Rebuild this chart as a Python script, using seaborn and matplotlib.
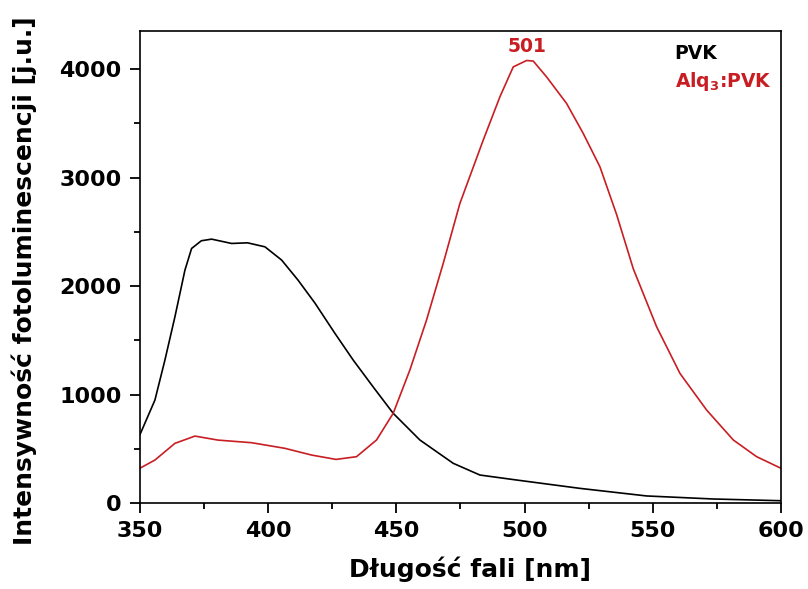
import matplotlib
matplotlib.use("Agg")
import matplotlib.pyplot as plt
import seaborn as sns
from matplotlib.ticker import MultipleLocator

# PVK (black curve)
pvk_nm = [350, 355.9, 359.8, 363.7, 367.6, 370.2, 374, 378, 385.8, 392, 398.8,
          405.3, 411.7, 418.3, 426, 433.2, 441, 448.8, 459.2, 472.2, 482.6,
          496.9, 521.6, 547.6, 573.6, 600]
pvk_int = [627, 949, 1318, 1717, 2147, 2347, 2418, 2433, 2393, 2399, 2362,
           2240, 2055, 1843, 1567, 1318, 1070, 827, 581, 366, 258,
           212, 135, 65, 37, 21]

# Alq3:PVK (red curve)
alq_nm = [350, 355.9, 363.7, 371.5, 380.5, 393.6, 406.6, 417, 426.5, 434.5,
          442.3, 448.8, 455.3, 461.8, 468.3, 474.8, 483.9, 490.4, 495.6, 500.8,
          503.4, 508.6, 516.4, 522.9, 529.4, 535.9, 542.4, 551.5, 560.6, 571,
          581.4, 590.5, 600]
alq_int = [320, 396, 550, 617, 580, 556, 504, 442, 402, 427,
           581, 827, 1226, 1687, 2209, 2762, 3346, 3745, 4021, 4080,
           4075, 3929, 3684, 3407, 3100, 2660, 2160, 1625, 1195, 857,
           581, 427, 320]

peak_nm = 501
red = "#C81E23"

sns.set_theme(style="ticks")
plt.rcParams["font.family"] = ["DejaVu Sans"]
plt.rcParams["font.weight"] = "bold"
plt.rcParams["mathtext.fontset"] = "dejavusans"

fig = plt.figure(figsize=(8.08, 5.89), dpi=100)
ax = fig.add_axes([0.173, 0.146, 0.7936, 0.801])

sns.lineplot(x=pvk_nm, y=pvk_int, color="black", linewidth=1.2, ax=ax)
sns.lineplot(x=alq_nm, y=alq_int, color=red, linewidth=1.2, ax=ax)

ax.set_xlim(350, 600)
ax.set_ylim(0, 4350)
ax.xaxis.set_major_locator(MultipleLocator(50))
ax.xaxis.set_minor_locator(MultipleLocator(25))
ax.yaxis.set_major_locator(MultipleLocator(1000))
ax.yaxis.set_minor_locator(MultipleLocator(500))
ax.tick_params(which="major", direction="out", length=7, width=1.3,
               labelsize=16, color="black", labelcolor="black", pad=6)
ax.tick_params(which="minor", direction="out", length=4, width=1.3,
               color="black")
for s in ax.spines.values():
    s.set_linewidth(1.2)
    s.set_color("black")

lab = dict(fontsize=18, fontweight="bold", color="black")
ax.set_xlabel("Długość fali [nm]", **lab)
ax.set_ylabel("Intensywność fotoluminescencji [j.u.]", **lab)
ax.xaxis.set_label_coords(0.5156, -0.114)
ax.yaxis.set_label_coords(-0.161, 0.472)

ann = dict(fontsize=13.5, fontweight="bold")
ax.text(peak_nm, 4212, "501", color=red, ha="center", va="center", **ann)
ax.text(0.834, 0.953, "PVK", transform=ax.transAxes, color="black",
        ha="left", va="center", **ann)
ax.text(0.834, 0.893, r"Alq$_\mathbf{3}$:PVK", transform=ax.transAxes,
        color=red, ha="left", va="center", **ann)

plt.savefig("out.png", dpi=100)
